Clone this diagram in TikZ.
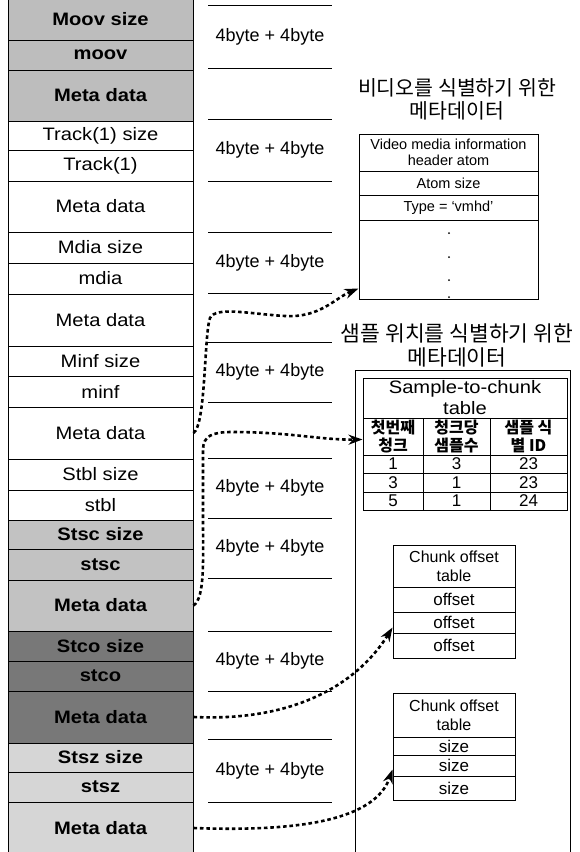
\documentclass[tikz,border=0pt]{standalone}
\usepackage{fontspec}
\setmainfont{Liberation Sans}
\newfontfamily\widefont[FakeStretch=1.12]{Liberation Sans}
\newfontfamily\krfont{Noto Sans CJK KR}
\usetikzlibrary{calc,arrows.meta}
\definecolor{grayA}{HTML}{BDBDBD}
\definecolor{grayB}{HTML}{C2C2C2}
\definecolor{grayC}{HTML}{787878}
\definecolor{grayD}{HTML}{D6D6D6}
\tikzset{
  cellbox/.style={draw, line width=1pt, minimum width=185pt, inner sep=0pt,
    font=\widefont\fontsize{18}{20}\selectfont},
  bcell/.style={font=\widefont\bfseries\fontsize{18}{20}\selectfont},
  tcell/.style={draw, line width=1pt, inner sep=0pt, align=center},
  midlbl/.style={font=\fontsize{18}{20}\selectfont, inner sep=0pt},
  midline/.style={line width=1pt},
  krtitle/.style={font=\krfont\fontsize{20.5}{23}\selectfont, align=center, inner sep=0pt},
  dotarrow/.style={line width=2.6pt, dash pattern=on 3.6pt off 2.8pt,
    -{Stealth[length=14pt,width=10pt]}},
}
\newcommand\lrow[5]{\node[cellbox,#4,minimum height={(#3)-(#2)}] (#1) at (100.5,{((#2)+(#3))/2}) {#5};}
\newcommand\bx[7]{\node[tcell,#1,minimum width={(#4)-(#3)},minimum height={(#6)-(#5)}] (#2) at ({((#3)+(#4))/2},{((#5)+(#6))/2}) {#7};}
\begin{document}
\begin{tikzpicture}[x=1pt,y=-1pt]
\useasboundingbox (0,0) rectangle (579,852);
% left column
\lrow{moovsize}{-2}{40}{fill=grayA,bcell}{Moov size}
\lrow{moov}{40}{70}{fill=grayA,bcell}{moov}
\lrow{moovmeta}{70}{121}{fill=grayA,bcell}{Meta data}
\lrow{trksize}{121}{150}{}{Track(1) size}
\lrow{trk}{150}{181}{}{Track(1)}
\lrow{trkmeta}{181}{232}{}{Meta data}
\lrow{mdiasize}{232}{263}{}{Mdia size}
\lrow{mdia}{263}{294}{}{mdia}
\lrow{mdiameta}{294}{346}{}{Meta data}
\lrow{minfsize}{346}{376}{}{Minf size}
\lrow{minf}{376}{407}{}{minf}
\lrow{minfmeta}{407}{459}{}{Meta data}
\lrow{stblsize}{459}{490}{}{Stbl size}
\lrow{stbl}{490}{520}{}{stbl}
\lrow{stscsize}{520}{549}{fill=grayB,bcell}{Stsc size}
\lrow{stsc}{549}{580}{fill=grayB,bcell}{stsc}
\lrow{stscmeta}{580}{631}{fill=grayB,bcell}{Meta data}
\lrow{stcosize}{631}{661}{fill=grayC,bcell}{Stco size}
\lrow{stco}{661}{691}{fill=grayC,bcell}{stco}
\lrow{stcometa}{691}{743}{fill=grayC,bcell}{Meta data}
\lrow{stszsize}{743}{772}{fill=grayD,bcell}{Stsz size}
\lrow{stsz}{772}{802}{fill=grayD,bcell}{stsz}
\lrow{stszmeta}{802}{854}{fill=grayD,bcell}{Meta data}
% middle lines and labels
\foreach \yy in {5,68,119,181,232,293,342,402,458,518,578,631,691,739,802}
  \draw[midline] (208,\yy) -- (332,\yy);
\node[midlbl] (b1) at (270,37) {4byte + 4byte};
\node[midlbl] (b2) at (270,150) {4byte + 4byte};
\node[midlbl] (b3) at (270,263) {4byte + 4byte};
\node[midlbl] (b4) at (270,372) {4byte + 4byte};
\node[midlbl] (b5) at (270,488) {4byte + 4byte};
\node[midlbl] (b6) at (270,548) {4byte + 4byte};
\node[midlbl] (b7) at (270,661) {4byte + 4byte};
\node[midlbl] (b8) at (270,771) {4byte + 4byte};
% vmhd box
\node[krtitle] (title1) at (457,99) {비디오를 식별하기 위한\\메타데이터};
\bx{font=\fontsize{14.5}{16}\selectfont}{v1}{359}{538}{134}{171}{Video media information\\header atom}
\bx{font=\fontsize{14.5}{16}\selectfont}{v2}{359}{538}{171}{195}{Atom size}
\bx{font=\fontsize{14.5}{16}\selectfont}{v3}{359}{538}{195}{220}{Type = `vmhd'}
\bx{}{v4}{359}{538}{220}{299}{}
\foreach \yy in {233,257,280,297} \fill (449,\yy) circle (1pt);
% sample position box
\node[krtitle,font=\krfont\fontsize{21.5}{24}\selectfont] (title2) at (457,345) {샘플 위치를 식별하기 위한\\메타데이터};
\draw[line width=1pt] (355,853) -- (355,370) -- (570,370) -- (570,853);
\bx{font=\widefont\fontsize{18}{21}\selectfont}{st}{363}{567}{378}{418}{Sample-to-chunk\\table}
\bx{font=\krfont\bfseries\fontsize{16}{18}\selectfont}{h1}{363}{423}{418}{455}{첫번째\\청크}
\bx{font=\krfont\bfseries\fontsize{16}{18}\selectfont}{h2}{423}{490}{418}{455}{청크당\\샘플수}
\bx{font=\krfont\bfseries\fontsize{16}{18}\selectfont}{h3}{490}{567}{418}{455}{샘플 식\\별 ID}
\bx{font=\fontsize{17}{18}\selectfont}{r11}{363}{423}{455}{473}{1}
\bx{font=\fontsize{17}{18}\selectfont}{r12}{423}{490}{455}{473}{3}
\bx{font=\fontsize{17}{18}\selectfont}{r13}{490}{567}{455}{473}{23}
\bx{font=\fontsize{17}{18}\selectfont}{r21}{363}{423}{473}{492}{3}
\bx{font=\fontsize{17}{18}\selectfont}{r22}{423}{490}{473}{492}{1}
\bx{font=\fontsize{17}{18}\selectfont}{r23}{490}{567}{473}{492}{23}
\bx{font=\fontsize{17}{18}\selectfont}{r31}{363}{423}{492}{510}{5}
\bx{font=\fontsize{17}{18}\selectfont}{r32}{423}{490}{492}{510}{1}
\bx{font=\fontsize{17}{18}\selectfont}{r33}{490}{567}{492}{510}{24}
% chunk offset tables
\bx{font=\fontsize{16}{19}\selectfont}{c1t}{393}{515}{545}{587}{Chunk offset\\table}
\bx{font=\fontsize{17}{18}\selectfont}{c1a}{393}{515}{587}{612}{offset}
\bx{font=\fontsize{17}{18}\selectfont}{c1b}{393}{515}{612}{633}{offset}
\bx{font=\fontsize{17}{18}\selectfont}{c1c}{393}{515}{633}{658}{offset}
\bx{font=\fontsize{16}{19}\selectfont}{c2t}{393}{515}{693}{737}{Chunk offset\\table}
\bx{font=\fontsize{17}{18}\selectfont}{c2a}{393}{515}{737}{755}{size}
\bx{font=\fontsize{17}{18}\selectfont}{c2b}{393}{515}{755}{776}{size}
\bx{font=\fontsize{17}{18}\selectfont}{c2c}{393}{515}{776}{800}{size}
% connectors
\coordinate (e1) at ($(v4.south west)+(0,-11)$);
\draw[dotarrow] (minfmeta.east) .. controls (206,425) and (204,335) .. (210,318)
  .. controls (216,306) and (250,314) .. (285,316)
  .. controls (320,318) and (335,298) .. (e1);
\coordinate (e2) at ($(h1.west)+(0,3)$);
\draw[dotarrow] (stscmeta.east) .. controls (205,598) and (203,560) .. (203,520)
  -- (203,450) .. controls (203,436) and (212,432) .. (232,432)
  .. controls (290,432) and (320,440) .. (e2);
\coordinate (e3) at ($(c1b.south west)+(0,-6)$);
\draw[dotarrow] (stcometa.east) .. controls (300,722) and (360,680) .. (e3);
\coordinate (e4) at ($(c2b.west)+(0,4)$);
\draw[dotarrow] (stszmeta.east) .. controls (300,832) and (375,820) .. (e4);
\end{tikzpicture}
\end{document}
